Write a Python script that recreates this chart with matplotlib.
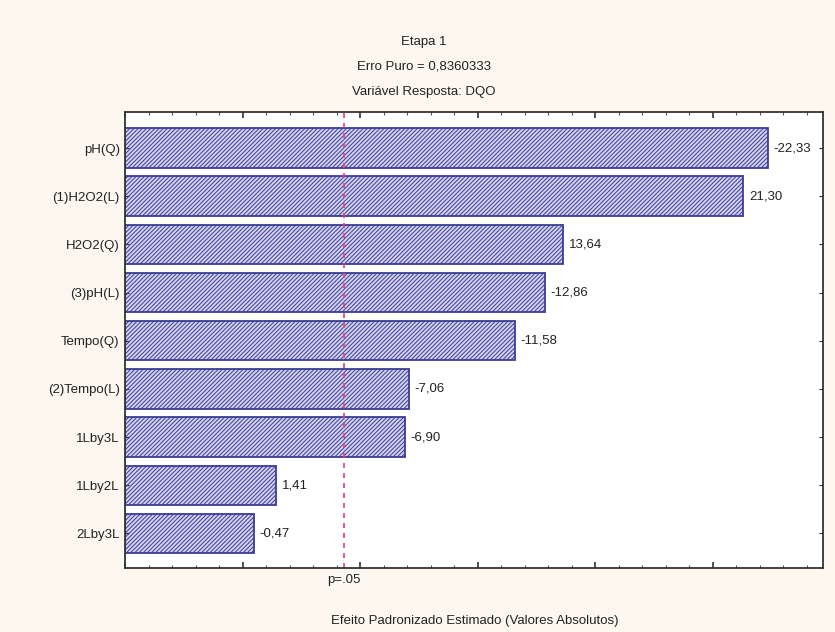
import matplotlib.pyplot as plt
import matplotlib.transforms as mtransforms
from matplotlib.ticker import MultipleLocator, NullFormatter
import numpy as np

plt.rcParams['font.family'] = ['Liberation Sans', 'DejaVu Sans']
plt.rcParams['hatch.linewidth'] = 0.7
plt.rcParams['hatch.color'] = '#6a6ab4'

# dados (efeitos padronizados, Etapa 1)
fatores = ['pH(Q)', '(1)H2O2(L)', 'H2O2(Q)', '(3)pH(L)', 'Tempo(Q)',
           '(2)Tempo(L)', '1Lby3L', '1Lby2L', '2Lby3L']
efeitos = [-22.33, 21.30, 13.64, -12.86, -11.58, -7.06, -6.90, 1.41, -0.47]
t_critico = 4.303  # p=.05, gl do erro puro = 2
titulo = ['Etapa 1', 'Erro Puro = 0,8360333', 'Variável Resposta: DQO']
xlabel = 'Efeito Padronizado Estimado (Valores Absolutos)'

xmin, xmax = -5.0, 24.7

fig = plt.figure(figsize=(8.35, 6.32), dpi=100, facecolor='#fcf8ef')
ax = fig.add_axes([0.150, 0.101, 0.836, 0.722])
ax.set_facecolor('white')

y = np.arange(len(fatores))[::-1]
abs_ef = np.abs(efeitos)
ax.barh(y, abs_ef - xmin, left=xmin, height=0.82, color='#d2d2ee',
        edgecolor='#3c3c96', linewidth=1.3, hatch='////////')

# rótulos de valor
for yi, v, a in zip(y, efeitos, abs_ef):
    txt = f'{v:.2f}'.replace('.', ',')
    ax.annotate(txt, xy=(a, yi), xytext=(4, 0), textcoords='offset points',
                ha='left', va='center', fontsize=9.5, color='#222222')

# linha p=.05
ax.axvline(t_critico, color='#e0407a', linestyle=(0, (3, 3)), linewidth=1.2)
trans = mtransforms.blended_transform_factory(ax.transData, ax.transAxes)
ax.text(t_critico, -0.012, 'p=.05', transform=trans, ha='center', va='top',
        fontsize=9.5, color='#222222')

ax.set_xlim(xmin, xmax)
ax.set_ylim(-0.72, len(fatores) - 1 + 0.75)
ax.set_yticks(y)
ax.set_yticklabels(fatores, fontsize=9.5, color='#222222')

ax.xaxis.set_major_locator(MultipleLocator(5))
ax.xaxis.set_minor_locator(MultipleLocator(1))
ax.xaxis.set_major_formatter(NullFormatter())
ax.tick_params(axis='x', which='major', direction='in', length=4, width=1.2,
               top=True, bottom=True, color='#333333')
ax.tick_params(axis='x', which='minor', direction='in', length=2.5, width=0.8,
               top=True, bottom=True, color='#555555')
ax.tick_params(axis='y', direction='in', length=3, left=True, right=True,
               color='#333333', pad=4)

for s in ax.spines.values():
    s.set_color('#333333')
    s.set_linewidth(1.3)

ax.set_xlabel(xlabel, fontsize=9.5, color='#222222', labelpad=30)

for i, t in enumerate(titulo):
    fig.text(0.508, 0.934 - i * 0.040, t, ha='center', va='center',
             fontsize=9.5, color='#222222')

plt.savefig('out.png', dpi=100, facecolor=fig.get_facecolor())
plt.close()
